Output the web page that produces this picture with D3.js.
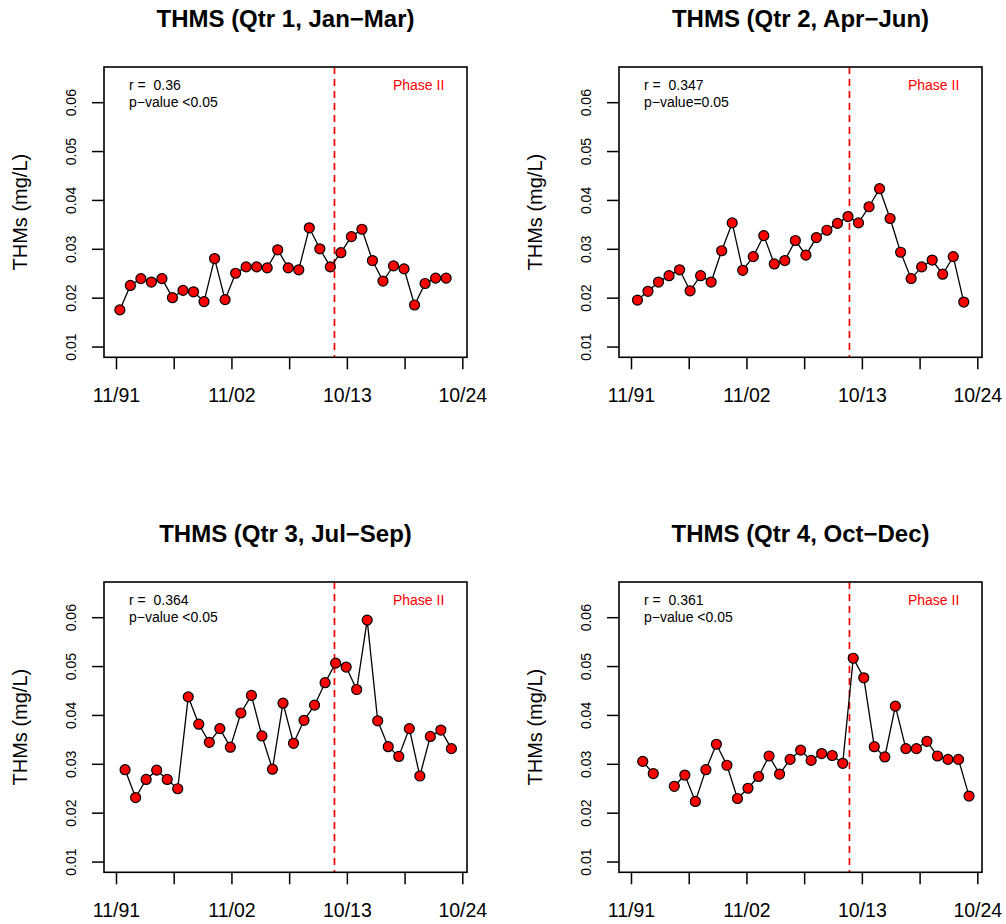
<!DOCTYPE html>
<html>
<head>
<meta charset="utf-8">
<script src="https://cdn.jsdelivr.net/npm/d3@7"></script>
<style>
  html, body { margin: 0; padding: 0; background: #fff; }
  svg { display: block; }
  text { font-family: "Liberation Sans", Arial, Helvetica, sans-serif; white-space: pre; }
</style>
</head>
<body>
<div id="chart"></div>
<script>
// Sampling years (one sample per quarter per year)
const years = d3.range(1992, 2024);

// Quarterly THM concentrations (mg/L); null = no sample
const q1Values = [0.0175,0.0225,0.0239,0.0232,0.0239,0.0200,0.0215,0.0212,0.0192,0.0280,0.0196,0.0250,0.0263,0.0263,0.0261,0.0298,0.0261,0.0257,0.0343,0.0300,0.0263,0.0292,0.0325,0.0340,0.0276,0.0234,0.0265,0.0259,0.0185,0.0229,0.0240,0.0240];
const q2Values = [0.0195,0.0213,0.0232,0.0245,0.0257,0.0214,0.0245,0.0232,0.0296,0.0353,0.0256,0.0284,0.0327,0.0269,0.0276,0.0317,0.0287,0.0323,0.0338,0.0352,0.0366,0.0353,0.0386,0.0423,0.0362,0.0293,0.0239,0.0263,0.0277,0.0248,0.0284,0.0191];
const q3Values = [0.0288,0.0231,0.0268,0.0287,0.0268,0.0249,0.0437,0.0381,0.0344,0.0372,0.0334,0.0404,0.0440,0.0357,0.0289,0.0424,0.0342,0.0389,0.0420,0.0466,0.0506,0.0498,0.0452,0.0594,0.0388,0.0335,0.0315,0.0372,0.0275,0.0356,0.0369,0.0331];
const q4Values = [0.0305,0.0280,null,0.0254,0.0277,0.0223,0.0288,0.0340,0.0297,0.0229,0.0250,0.0274,0.0316,0.0279,0.0309,0.0328,0.0307,0.0321,0.0317,0.0301,0.0516,0.0476,0.0335,0.0314,0.0418,0.0331,0.0331,0.0346,0.0316,0.0309,0.0309,0.0234];

// Panel titles and statistics
const panelTitles = ["THMS (Qtr 1, Jan\u2212Mar)", "THMS (Qtr 2, Apr\u2212Jun)", "THMS (Qtr 3, Jul\u2212Sep)", "THMS (Qtr 4, Oct\u2212Dec)"];
const rLabels = ["r =  0.36", "r =  0.347", "r =  0.364", "r =  0.361"];
const pLabels = ["p\u2212value <0.05", "p\u2212value=0.05", "p\u2212value <0.05", "p\u2212value <0.05"];
// Fraction of the year at which each quarter's sample is dated (quarter end)
const quarterOffsets = [0.25, 0.5, 0.75, 1.0];

// Axis ticks
const yTicks = [0.01, 0.02, 0.03, 0.04, 0.05, 0.06];
const xTickStart = 1991.886, xTickStep = 5.4833;   // Nov 1991, every ~5.5 years
const xTickLabels = ["11/91", "", "11/02", "", "10/13", "", "10/24"];
const phaseIIStart = 2012.64;
const phaseLabel = "Phase II";
const yLabel = "THMs (mg/L)";

const series = [q1Values, q2Values, q3Values, q4Values];

const W = 1006, H = 924;
const svg = d3.select("#chart").append("svg").attr("width", W).attr("height", H);

const box = { left: 104, top: 67, width: 363, height: 290.3 };
const step = 515;

const x = d3.scaleLinear().domain([1990.746, 2025.232]).range([0, box.width]);
const y = d3.scaleLinear().domain([0.0078, 0.0672]).range([box.height, 0]);
const xTicks = xTickLabels.map((_, i) => xTickStart + i * xTickStep);

series.forEach((vals, p) => {
  const col = p % 2, row = Math.floor(p / 2);
  const g = svg.append("g")
    .attr("transform", `translate(${box.left + col * step},${box.top + row * step})`);

  const pts = vals.map((v, i) => ({ t: years[i] + quarterOffsets[p], v }));

  // title
  g.append("text")
    .attr("x", box.width / 2).attr("y", -40)
    .attr("text-anchor", "middle")
    .attr("font-size", 24).attr("font-weight", "bold")
    .text(panelTitles[p]);

  // y axis
  const yAxis = g.append("g").call(d3.axisLeft(y).tickValues(yTicks).tickSize(12).tickFormat(d3.format(".2f")));
  yAxis.select(".domain").remove();
  yAxis.selectAll(".tick line").attr("stroke", "#000").attr("stroke-width", 1.5);
  yAxis.selectAll(".tick text")
    .attr("font-size", 14).attr("fill", "#000")
    .attr("x", null).attr("dy", null)
    .attr("transform", "translate(-28.5,0) rotate(-90)")
    .attr("text-anchor", "middle").attr("y", 0);

  // x axis
  const xAxis = g.append("g").attr("transform", `translate(0,${box.height})`)
    .call(d3.axisBottom(x).tickValues(xTicks).tickSize(12).tickFormat((d, i) => xTickLabels[i]));
  xAxis.select(".domain").remove();
  xAxis.selectAll(".tick line").attr("stroke", "#000").attr("stroke-width", 1.5);
  xAxis.selectAll(".tick text")
    .attr("font-size", 19.5).attr("fill", "#000")
    .attr("dy", null).attr("y", 44.5);

  // y axis title
  g.append("text")
    .attr("transform", `translate(${27 - box.left},${box.height / 2}) rotate(-90)`)
    .attr("text-anchor", "middle")
    .attr("font-size", 20)
    .text(yLabel);

  // Phase II boundary
  g.append("line")
    .attr("x1", x(phaseIIStart)).attr("x2", x(phaseIIStart))
    .attr("y1", 0).attr("y2", box.height)
    .attr("stroke", "#ff0000").attr("stroke-width", 1.7)
    .attr("stroke-dasharray", "7,5");

  // series line (broken at missing samples)
  const line = d3.line().defined(d => d.v != null).x(d => x(d.t)).y(d => y(d.v));
  g.append("path").datum(pts)
    .attr("fill", "none").attr("stroke", "#000").attr("stroke-width", 1.3)
    .attr("d", line);

  // points
  g.selectAll("circle.pt").data(pts.filter(d => d.v != null)).join("circle")
    .attr("class", "pt")
    .attr("cx", d => x(d.t)).attr("cy", d => y(d.v))
    .attr("r", 5)
    .attr("fill", "#ff0000").attr("stroke", "#000").attr("stroke-width", 1.2);

  // statistics text
  g.append("text").attr("x", 25).attr("y", 23).attr("font-size", 14).text(rLabels[p]);
  g.append("text").attr("x", 25).attr("y", 40).attr("font-size", 14).text(pLabels[p]);
  g.append("text").attr("x", box.width - 22.7).attr("y", 23)
    .attr("text-anchor", "end").attr("font-size", 14).attr("fill", "#ff0000")
    .text(phaseLabel);

  // plot frame
  g.append("rect")
    .attr("x", 0).attr("y", 0).attr("width", box.width).attr("height", box.height)
    .attr("fill", "none").attr("stroke", "#000").attr("stroke-width", 1.6);
});
</script>
</body>
</html>
